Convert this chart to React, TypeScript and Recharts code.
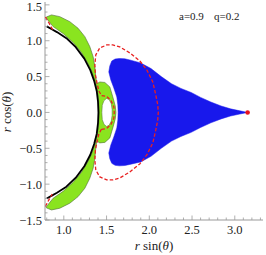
import React from 'react';
import { ScatterChart, Scatter, XAxis, YAxis } from 'recharts';

type P = { x: number; y: number };

// ---- axis ticks ----
const xMajorTicks = [1.0, 1.5, 2.0, 2.5, 3.0];
const xMinorTicks = [0.8, 0.9, 1.1, 1.2, 1.3, 1.4, 1.6, 1.7, 1.8, 1.9, 2.1, 2.2, 2.3, 2.4, 2.6, 2.7, 2.8, 2.9, 3.1, 3.2, 3.3];
const yMajorTicks = [-1.5, -1.0, -0.5, 0.0, 0.5, 1.0, 1.5];
const yMinorTicks = [-1.4, -1.3, -1.2, -1.1, -0.9, -0.8, -0.7, -0.6, -0.4, -0.3, -0.2, -0.1, 0.1, 0.2, 0.3, 0.4, 0.6, 0.7, 0.8, 0.9, 1.1, 1.2, 1.3, 1.4];
const xDomain: [number, number] = [0.78, 3.33];
const yDomain: [number, number] = [-1.5, 1.54];

const xLabel = 'r sin(θ)';
const yLabel = 'r cos(θ)';
const paramA = 'a=0.9';
const paramQ = 'q=0.2';

// ---- regions ----
const blueRegion: P[] = [
  { x: 1.538, y: 0.649 }, { x: 1.561, y: 0.718 }, { x: 1.6, y: 0.745 }, { x: 1.65, y: 0.752 },
  { x: 1.713, y: 0.748 }, { x: 1.772, y: 0.732 }, { x: 1.9, y: 0.69 }, { x: 2.02, y: 0.612 },
  { x: 2.14, y: 0.5 }, { x: 2.26, y: 0.4 }, { x: 2.37, y: 0.335 }, { x: 2.49, y: 0.278 },
  { x: 2.6, y: 0.21 }, { x: 2.72, y: 0.145 }, { x: 2.84, y: 0.09 }, { x: 2.95, y: 0.05 },
  { x: 3.06, y: 0.022 }, { x: 3.15, y: 0 },
  { x: 3.06, y: -0.022 }, { x: 2.95, y: -0.05 }, { x: 2.84, y: -0.09 }, { x: 2.72, y: -0.145 },
  { x: 2.6, y: -0.21 }, { x: 2.49, y: -0.278 }, { x: 2.37, y: -0.335 }, { x: 2.26, y: -0.4 },
  { x: 2.14, y: -0.5 }, { x: 2.02, y: -0.612 }, { x: 1.9, y: -0.69 }, { x: 1.772, y: -0.725 },
  { x: 1.713, y: -0.74 }, { x: 1.65, y: -0.745 }, { x: 1.6, y: -0.738 }, { x: 1.561, y: -0.71 },
  { x: 1.538, y: -0.645 },
  { x: 1.526, y: -0.565 }, { x: 1.55, y: -0.453 }, { x: 1.585, y: -0.342 }, { x: 1.62, y: -0.216 },
  { x: 1.632, y: -0.105 }, { x: 1.635, y: 0 }, { x: 1.632, y: 0.105 }, { x: 1.62, y: 0.216 },
  { x: 1.585, y: 0.342 }, { x: 1.55, y: 0.453 }, { x: 1.526, y: 0.565 },
];

const greenRegion: P[] = [
  { x: 0.795, y: 1.33 },
  { x: 0.856, y: 1.36 }, { x: 0.953, y: 1.336 }, { x: 1.07, y: 1.266 }, { x: 1.167, y: 1.174 },
  { x: 1.246, y: 1.057 }, { x: 1.304, y: 0.918 }, { x: 1.343, y: 0.778 }, { x: 1.363, y: 0.639 },
  { x: 1.374, y: 0.499 }, { x: 1.386, y: 0.4 }, { x: 1.421, y: 0.425 }, { x: 1.48, y: 0.418 },
  { x: 1.538, y: 0.356 }, { x: 1.573, y: 0.216 }, { x: 1.602, y: 0.09 }, { x: 1.61, y: 0 },
  { x: 1.602, y: -0.09 }, { x: 1.573, y: -0.216 }, { x: 1.538, y: -0.356 }, { x: 1.48, y: -0.418 },
  { x: 1.421, y: -0.425 }, { x: 1.386, y: -0.4 }, { x: 1.374, y: -0.499 }, { x: 1.363, y: -0.639 },
  { x: 1.343, y: -0.778 }, { x: 1.304, y: -0.918 }, { x: 1.246, y: -1.057 }, { x: 1.167, y: -1.174 },
  { x: 1.07, y: -1.266 }, { x: 0.953, y: -1.336 }, { x: 0.856, y: -1.36 }, { x: 0.795, y: -1.33 },
  { x: 0.798, y: -1.311 }, { x: 0.875, y: -1.197 }, { x: 0.992, y: -1.1 }, { x: 1.109, y: -0.975 },
  { x: 1.207, y: -0.835 }, { x: 1.275, y: -0.7 }, { x: 1.325, y: -0.58 }, { x: 1.365, y: -0.44 },
  { x: 1.393, y: -0.3 }, { x: 1.408, y: -0.15 }, { x: 1.412, y: 0 },
  { x: 1.408, y: 0.15 }, { x: 1.393, y: 0.3 }, { x: 1.365, y: 0.44 }, { x: 1.325, y: 0.58 },
  { x: 1.275, y: 0.7 }, { x: 1.207, y: 0.835 }, { x: 1.109, y: 0.975 }, { x: 0.992, y: 1.1 },
  { x: 0.875, y: 1.197 }, { x: 0.798, y: 1.311 },
];

const greenHole: P[] = [
  { x: 1.445, y: 0 }, { x: 1.45, y: 0.1 }, { x: 1.47, y: 0.165 }, { x: 1.5, y: 0.195 },
  { x: 1.53, y: 0.18 }, { x: 1.555, y: 0.12 }, { x: 1.565, y: 0.04 }, { x: 1.565, y: -0.04 },
  { x: 1.555, y: -0.12 }, { x: 1.53, y: -0.18 }, { x: 1.5, y: -0.195 }, { x: 1.47, y: -0.165 },
  { x: 1.45, y: -0.1 },
];

const horizonArc: P[] = [
  { x: 0.8, y: 1.2 }, { x: 0.86, y: 1.16 }, { x: 0.92, y: 1.12 }, { x: 1.03, y: 1.035 },
  { x: 1.14, y: 0.91 }, { x: 1.24, y: 0.75 }, { x: 1.31, y: 0.59 }, { x: 1.355, y: 0.44 },
  { x: 1.385, y: 0.3 }, { x: 1.4, y: 0.15 }, { x: 1.405, y: 0 }, { x: 1.4, y: -0.15 },
  { x: 1.385, y: -0.3 }, { x: 1.355, y: -0.44 }, { x: 1.31, y: -0.59 }, { x: 1.24, y: -0.75 },
  { x: 1.14, y: -0.91 }, { x: 1.03, y: -1.035 }, { x: 0.92, y: -1.12 }, { x: 0.86, y: -1.16 },
  { x: 0.8, y: -1.2 },
];

const dashedMain: P[] = [
  { x: 1.44, y: -0.235 }, { x: 1.5, y: -0.225 }, { x: 1.55, y: -0.17 }, { x: 1.585, y: -0.08 },
  { x: 1.59, y: 0 }, { x: 1.585, y: 0.08 }, { x: 1.55, y: 0.17 }, { x: 1.5, y: 0.225 },
  { x: 1.44, y: 0.235 }, { x: 1.41, y: 0.3 }, { x: 1.39, y: 0.4 }, { x: 1.37, y: 0.52 },
  { x: 1.363, y: 0.662 }, { x: 1.374, y: 0.802 }, { x: 1.421, y: 0.9 }, { x: 1.503, y: 0.941 },
  { x: 1.573, y: 0.941 }, { x: 1.655, y: 0.914 }, { x: 1.772, y: 0.83 }, { x: 1.889, y: 0.718 },
  { x: 1.971, y: 0.593 }, { x: 2.041, y: 0.425 }, { x: 2.076, y: 0.244 }, { x: 2.099, y: 0.105 },
  { x: 2.105, y: 0 }, { x: 2.099, y: -0.105 }, { x: 2.076, y: -0.244 }, { x: 2.041, y: -0.425 },
  { x: 1.971, y: -0.593 }, { x: 1.889, y: -0.718 }, { x: 1.772, y: -0.83 }, { x: 1.655, y: -0.914 },
  { x: 1.573, y: -0.941 }, { x: 1.503, y: -0.941 }, { x: 1.421, y: -0.9 }, { x: 1.374, y: -0.802 },
  { x: 1.363, y: -0.662 }, { x: 1.37, y: -0.52 }, { x: 1.39, y: -0.4 }, { x: 1.41, y: -0.3 },
  { x: 1.44, y: -0.235 },
];
const dashedTipTop: P[] = [{ x: 0.785, y: 1.33 }, { x: 0.83, y: 1.24 }, { x: 0.875, y: 1.14 }];
const dashedTipBottom: P[] = [{ x: 0.785, y: -1.31 }, { x: 0.825, y: -1.22 }, { x: 0.865, y: -1.14 }];
const endPoint: P[] = [{ x: 3.15, y: 0 }];

// ---- styles ----
const FRAME = '#9a9a9a';
const TICK_TEXT = '#222';
const SERIF = "'Liberation Serif', 'DejaVu Serif', serif";

const isMajor = (v: number, majors: number[]) => majors.some((m) => Math.abs(m - v) < 1e-6);
const fmt = (v: number) => (v < -1e-9 ? '\u2212' : '') + Math.abs(v).toFixed(1);

const BottomTick = (props: any) => {
  const { x, y, payload } = props;
  const major = isMajor(payload.value, xMajorTicks);
  return (
    <g>
      <line x1={x} x2={x} y1={y} y2={y - (major ? 4.5 : 2.5)} stroke={FRAME} strokeWidth={0.8} />
      {major && (
        <text x={x} y={y + 14} textAnchor="middle" fontFamily={SERIF} fontSize={12.5} fill={TICK_TEXT}>
          {fmt(payload.value)}
        </text>
      )}
    </g>
  );
};
const TopTick = (props: any) => {
  const { x, y, payload } = props;
  const major = isMajor(payload.value, xMajorTicks);
  return <line x1={x} x2={x} y1={y} y2={y + (major ? 4.5 : 2.5)} stroke={FRAME} strokeWidth={0.8} />;
};
const LeftTick = (props: any) => {
  const { x, y, payload } = props;
  const major = isMajor(payload.value, yMajorTicks);
  return (
    <g>
      <line x1={x} x2={x + (major ? 4.5 : 2.5)} y1={y} y2={y} stroke={FRAME} strokeWidth={0.8} />
      {major && (
        <text x={x - 3} y={Math.max(y, 6)} dy="0.36em" textAnchor="end" fontFamily={SERIF} fontSize={12.5} fill={TICK_TEXT}>
          {fmt(payload.value)}
        </text>
      )}
    </g>
  );
};
const RightTick = (props: any) => {
  const { x, y, payload } = props;
  const major = isMajor(payload.value, yMajorTicks);
  return <line x1={x} x2={x - (major ? 4.5 : 2.5)} y1={y} y2={y} stroke={FRAME} strokeWidth={0.8} />;
};

const poly =
  (fill: string, stroke: string, strokeWidth: number, closed: boolean, dash?: string) =>
  (props: any) => {
    const pts: { x: number; y: number }[] = props.points || [];
    const d = pts.map((p, i) => `${i ? 'L' : 'M'}${p.x},${p.y}`).join(' ') + (closed ? ' Z' : '');
    return (
      <path
        d={d}
        fill={fill}
        stroke={stroke}
        strokeWidth={strokeWidth}
        strokeDasharray={dash}
        strokeLinejoin="round"
        strokeLinecap="butt"
      />
    );
  };

const noShape = () => <g />;
const dotShape = (props: any) => <circle cx={props.cx} cy={props.cy} r={2.3} fill="#e8141e" />;

const allXTicks = [...xMinorTicks, ...xMajorTicks].sort((a, b) => a - b);
const allYTicks = [...yMinorTicks, ...yMajorTicks].sort((a, b) => a - b);

export default function App() {
  return (
    <div style={{ position: 'absolute', left: 0, top: 0, width: 266, height: 255, background: '#fff' }}>
      <ScatterChart width={266} height={255} margin={{ top: 2, right: 3, bottom: 0, left: 0 }}>
        <XAxis
          xAxisId={0}
          dataKey="x"
          type="number"
          domain={xDomain}
          allowDataOverflow
          ticks={allXTicks}
          interval={0}
          height={35}
          tickSize={0}
          tickMargin={0}
          tickLine={false}
          axisLine={{ stroke: FRAME, strokeWidth: 1 }}
          tick={BottomTick}
        />
        <XAxis
          xAxisId="top"
          orientation="top"
          dataKey="x"
          type="number"
          domain={xDomain}
          allowDataOverflow
          ticks={allXTicks}
          interval={0}
          height={0}
          tickSize={0}
          tickMargin={0}
          tickLine={false}
          axisLine={{ stroke: FRAME, strokeWidth: 1 }}
          tick={TopTick}
        />
        <YAxis
          yAxisId={0}
          dataKey="y"
          type="number"
          domain={yDomain}
          allowDataOverflow
          ticks={allYTicks}
          interval={0}
          width={45}
          tickSize={0}
          tickMargin={0}
          tickLine={false}
          axisLine={{ stroke: FRAME, strokeWidth: 1 }}
          tick={LeftTick}
        />
        <YAxis
          yAxisId="right"
          orientation="right"
          dataKey="y"
          type="number"
          domain={yDomain}
          allowDataOverflow
          ticks={allYTicks}
          interval={0}
          width={0}
          tickSize={0}
          tickMargin={0}
          tickLine={false}
          axisLine={{ stroke: FRAME, strokeWidth: 1 }}
          tick={RightTick}
        />
        <Scatter data={blueRegion} fill="#1818ec" shape={noShape} line={poly('#1818ec', '#1818ec', 0.5, true)} isAnimationActive={false} />
        <Scatter data={greenRegion} fill="#8ae41f" shape={noShape} line={poly('#8ae41f', '#4f6b35', 0.6, true)} isAnimationActive={false} />
        <Scatter data={greenHole} fill="#ffffff" shape={noShape} line={poly('#ffffff', '#4f6b35', 0.5, true)} isAnimationActive={false} />
        <Scatter data={horizonArc} fill="#000" shape={noShape} line={poly('none', '#000', 1.8, false)} isAnimationActive={false} />
        <Scatter data={dashedMain} fill="#e82020" shape={noShape} line={poly('none', '#e82020', 1.3, false, '3.5 2')} isAnimationActive={false} />
        <Scatter data={dashedTipTop} fill="#e82020" shape={noShape} line={poly('none', '#e82020', 1.3, false, '3.5 2')} isAnimationActive={false} />
        <Scatter data={dashedTipBottom} fill="#e82020" shape={noShape} line={poly('none', '#e82020', 1.3, false, '3.5 2')} isAnimationActive={false} />
        <Scatter data={endPoint} fill="#e8141e" shape={dotShape} isAnimationActive={false} />
      </ScatterChart>
      <svg width={266} height={255} style={{ position: 'absolute', left: 0, top: 0, pointerEvents: 'none' }}>
        <text x={179} y={20} fontFamily={SERIF} fontSize={11} fill="#222">{paramA}</text>
        <text x={214} y={20} fontFamily={SERIF} fontSize={11} fill="#222">{paramQ}</text>
        <text x={154} y={250} textAnchor="middle" fontFamily={SERIF} fontSize={13} fill="#222">
          <tspan fontStyle="italic">{xLabel.slice(0, 1)}</tspan>
          <tspan>{xLabel.slice(1, 6)}</tspan>
          <tspan fontStyle="italic">{xLabel.slice(6, 7)}</tspan>
          <tspan>{xLabel.slice(7)}</tspan>
        </text>
        <text
          x={0}
          y={0}
          transform="translate(11,112) rotate(-90)"
          textAnchor="middle"
          fontFamily={SERIF}
          fontSize={13}
          fill="#222"
        >
          <tspan fontStyle="italic">{yLabel.slice(0, 1)}</tspan>
          <tspan>{yLabel.slice(1, 6)}</tspan>
          <tspan fontStyle="italic">{yLabel.slice(6, 7)}</tspan>
          <tspan>{yLabel.slice(7)}</tspan>
        </text>
      </svg>
    </div>
  );
}
